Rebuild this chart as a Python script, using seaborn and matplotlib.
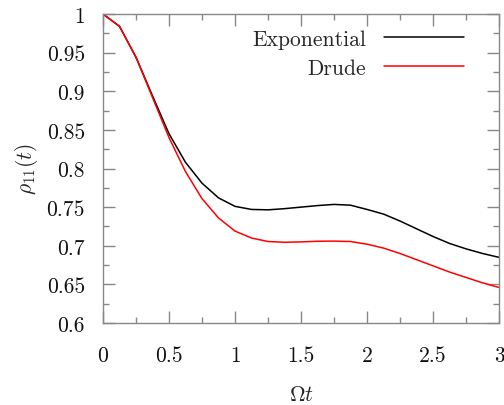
import numpy as np
import pandas as pd
import matplotlib
matplotlib.use("Agg")
import matplotlib.pyplot as plt
import seaborn as sns
from matplotlib.ticker import MultipleLocator

t = [0.0, 0.125, 0.25, 0.375, 0.5, 0.625, 0.75, 0.875, 1.0, 1.125, 1.25, 1.375, 1.5,
     1.625, 1.75, 1.875, 2.0, 2.125, 2.25, 2.375, 2.5, 2.625, 2.75, 2.875, 3.0]
exponential = [1.0, 0.984, 0.944, 0.894, 0.845, 0.808, 0.781, 0.762, 0.751, 0.747, 0.7465,
               0.748, 0.750, 0.752, 0.7535, 0.7525, 0.747, 0.741, 0.732, 0.722, 0.712,
               0.703, 0.696, 0.690, 0.685]
drude = [1.0, 0.984, 0.944, 0.892, 0.840, 0.796, 0.761, 0.736, 0.719, 0.710, 0.7055,
         0.7045, 0.705, 0.7058, 0.706, 0.7055, 0.702, 0.697, 0.690, 0.682, 0.674,
         0.666, 0.659, 0.652, 0.646]
series_names = ["Exponential", "Drude"]
colors = ["#000000", "#ff0000"]

df = pd.DataFrame({
    "t": t * 2,
    "rho": exponential + drude,
    "model": [series_names[0]] * len(t) + [series_names[1]] * len(t),
})

sns.set_theme(style="ticks")
plt.rcParams["font.family"] = ["serif"]
plt.rcParams["font.serif"] = ["cmr10", "DejaVu Serif"]
plt.rcParams["mathtext.fontset"] = "cm"
plt.rcParams["axes.formatter.use_mathtext"] = True

FS = 15.5
fig = plt.figure(figsize=(5.04, 4.06), dpi=100)
ax = fig.add_axes([103 / 504, 1 - 324 / 406, 396 / 504, 309 / 406])

sns.lineplot(data=df, x="t", y="rho", hue="model", palette=colors, ax=ax,
             linewidth=1.1, legend=True)

ax.set_xlim(0, 3)
ax.set_ylim(0.6, 1.0)
ax.xaxis.set_major_locator(MultipleLocator(0.5))
ax.xaxis.set_minor_locator(MultipleLocator(0.25))
ax.yaxis.set_major_locator(MultipleLocator(0.05))
ax.yaxis.set_minor_locator(MultipleLocator(0.025))

def fmt(v, pos):
    s = f"{v:.2f}".rstrip("0").rstrip(".")
    return s
ax.xaxis.set_major_formatter(plt.FuncFormatter(fmt))
ax.yaxis.set_major_formatter(plt.FuncFormatter(fmt))

gray = "#888888"
for sp in ax.spines.values():
    sp.set_visible(True)
    sp.set_color(gray)
    sp.set_linewidth(1.0)
ax.tick_params(which="both", direction="in", top=True, right=True, color=gray,
               width=1.0, labelsize=FS, labelcolor="#111111")
ax.tick_params(which="major", length=8.5)
ax.tick_params(which="minor", length=4.5)
ax.tick_params(axis="x", which="major", pad=16)
ax.tick_params(axis="y", which="major", pad=13)

ax.set_xlabel(r"$\Omega t$", fontsize=FS, labelpad=14)
ax.set_ylabel(r"$\rho_{11}(t)$", fontsize=FS, labelpad=5)

leg = ax.legend(loc="upper right", frameon=False, markerfirst=False, fontsize=FS,
                handlelength=3.7, handletextpad=0.85, labelspacing=0.45,
                bbox_to_anchor=(0.95, 1.0), borderaxespad=0.3)
for txt in leg.get_texts():
    txt.set_ha("right")
leg._legend_box.align = "right"

fig.savefig("out.png", dpi=100)
